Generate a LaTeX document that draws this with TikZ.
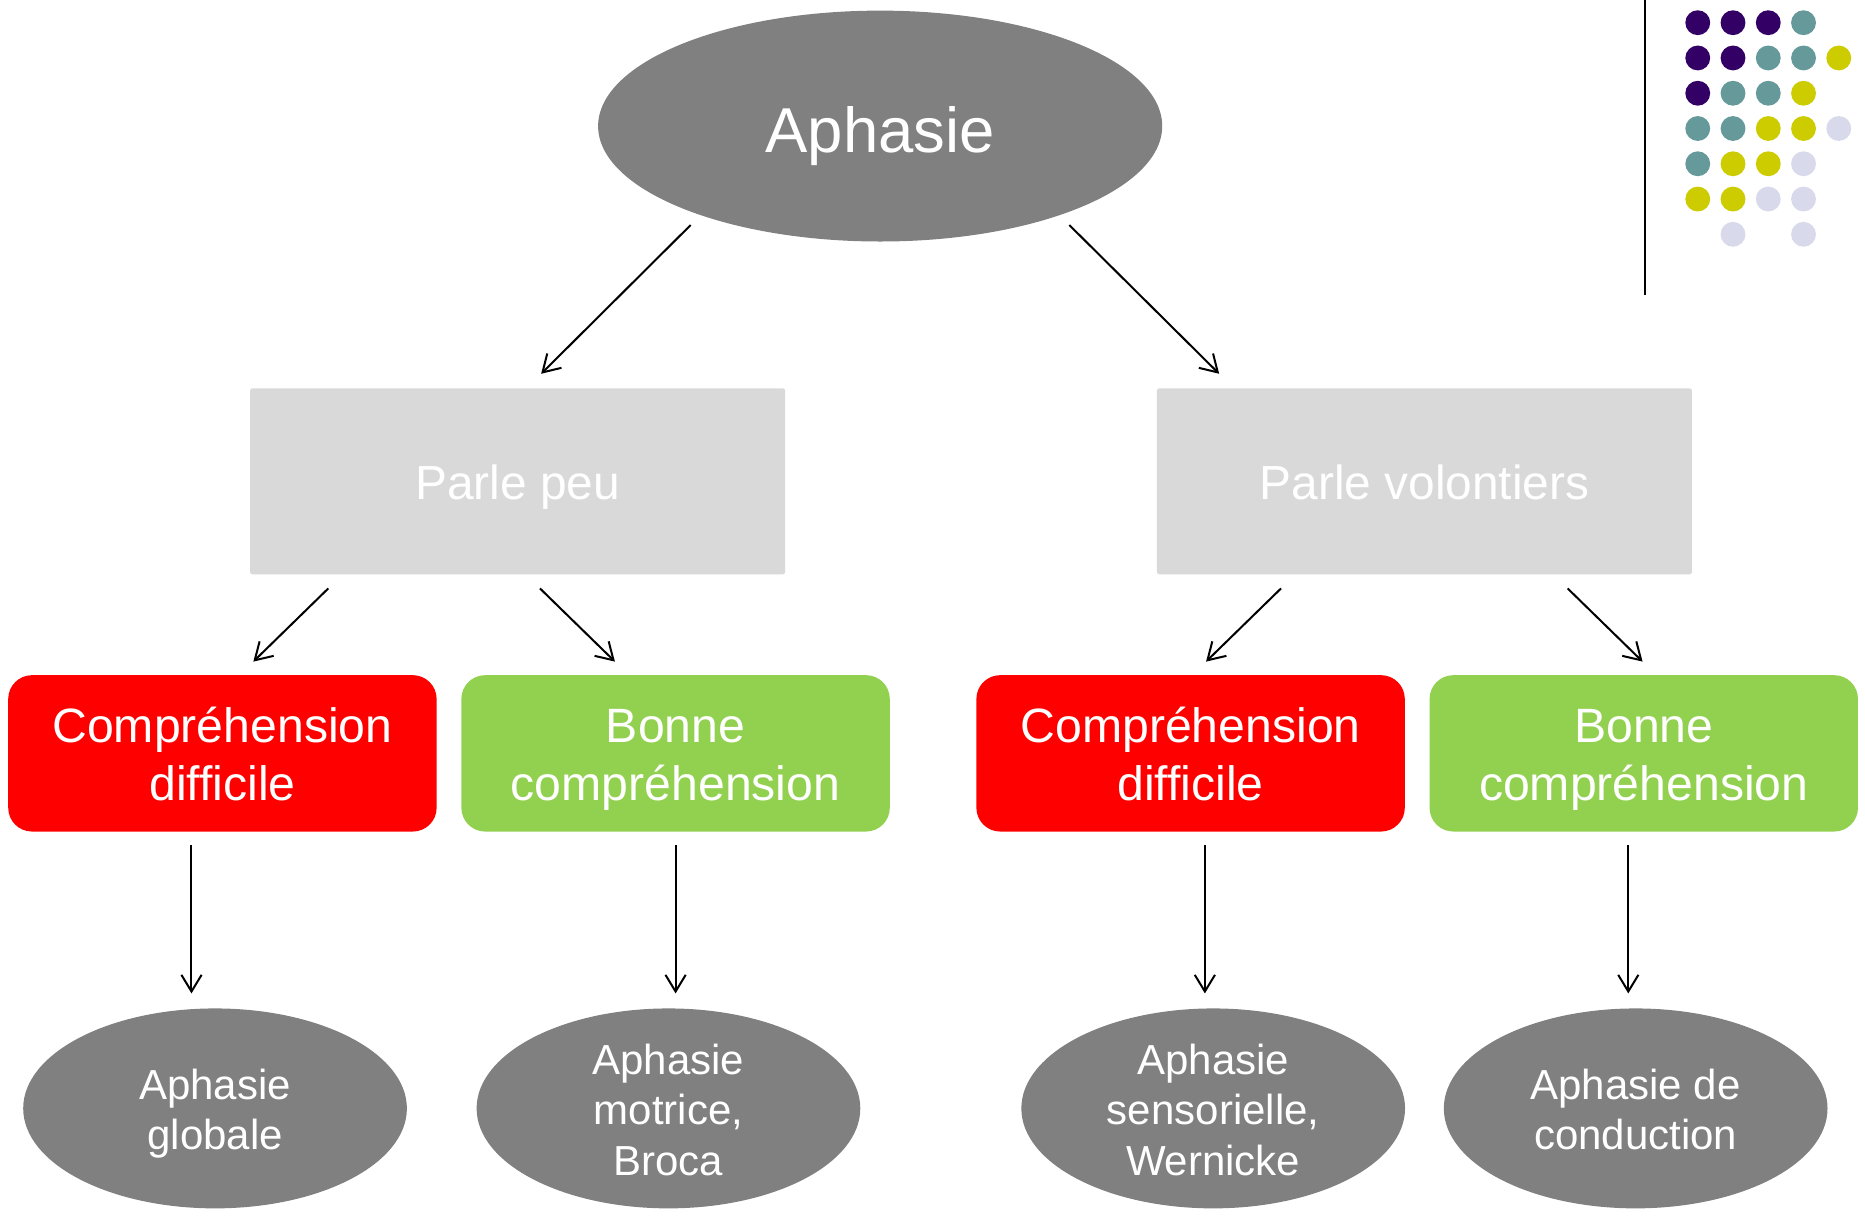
\documentclass[tikz,border=0pt]{standalone}
\usepackage{fontspec}
\setmainfont{Liberation Sans}
\usetikzlibrary{shapes.geometric,arrows.meta,calc}
\definecolor{ellgray}{HTML}{808080}
\definecolor{boxgray}{HTML}{D9D9D9}
\definecolor{myred}{HTML}{FF0000}
\definecolor{mygreen}{HTML}{92D050}
\definecolor{dpurple}{HTML}{330066}
\definecolor{dteal}{HTML}{669999}
\definecolor{dyellow}{HTML}{CCCC00}
\definecolor{dlav}{HTML}{D9D9EC}
\newcommand\bxt{\rule{0pt}{0.40cm}}
\newcommand\bxb{\rule[-0.09cm]{0pt}{0.09cm}}
\newcommand\elt{\rule{0pt}{0.354cm}}
\newcommand\elb{\rule[-0.08cm]{0pt}{0.08cm}}
\tikzset{
  topell/.style={ellipse, fill=ellgray, inner sep=0pt, minimum width=4.74cm, minimum height=1.94cm, text=white, text height=0.448cm, text depth=0pt, font=\fontsize{15.17}{18}\selectfont},
  graybox/.style={rectangle, fill=boxgray, rounded corners=0.02cm, inner sep=0pt, minimum width=4.495cm, minimum height=1.564cm, text=white, text height=0.302cm, text depth=0pt, font=\fontsize{11.44}{13.7}\selectfont},
  redbox/.style={rectangle, fill=myred, rounded corners=0.2cm, inner sep=0pt, minimum width=3.6cm, minimum height=1.314cm, text=white, align=center, font=\fontsize{11.52}{13.94}\selectfont},
  greenbox/.style={redbox, fill=mygreen},
  botell/.style={ellipse, fill=ellgray, inner xsep=0pt, inner ysep=-0.25cm, minimum width=3.224cm, minimum height=1.68cm, text=white, align=center, font=\fontsize{10.04}{12.035}\selectfont},
  arr/.style={line width=0.48pt, -{Straight Barb[length=0.14cm,width=0.17cm]}},
}
\begin{document}
\begin{tikzpicture}[x=0.01cm, y=-0.01cm]
\fill[white] (0,0) rectangle (1568,1023.2);
\useasboundingbox (0,0) rectangle (1568,1023.2);

\node[topell] (aph) at (740,106) {Aphasie};
\node[graybox] (pp) at (435.2,404.7) {Parle peu};
\node[graybox] (pv) at (1197.6,404.7) {Parle volontiers};
\node[redbox] (c1) at (187,633.4) {\bxt Compréhension\\difficile\bxb};
\node[greenbox] (b1) at (568,633.4) {\bxt Bonne\\compréhension\bxb};
\node[redbox] (c2) at (1001,633.4) {\bxt Compréhension\\difficile\bxb};
\node[greenbox] (b2) at (1382,633.4) {\bxt Bonne\\compréhension\bxb};
\node[botell] (e1) at (180.8,931.9) {\elt Aphasie\\globale\elb};
\node[botell] (e2) at (562,931.9) {\elt Aphasie\\motrice,\\Broca\elb};
\node[botell] (e3) at (1020,931.9) {\elt Aphasie\\sensorielle,\\Wernicke\elb};
\node[botell] (e4) at (1375.2,931.9) {\elt Aphasie de\\conduction\elb};

\draw[arr] ($(aph.center)+(-159.3,83.2)$) -- ($(pp.north)+(19.8,-11.5)$);
\draw[arr] ($(aph.center)+(159,83.2)$) -- ($(pv.north)+(-172.6,-11.5)$);
\draw[arr] ($(pp.south)+(-159.2,11.1)$) -- ($(c1.north)+(26,-10.7)$);
\draw[arr] ($(pp.south)+(18.8,11.1)$) -- ($(b1.north)+(-51,-10.7)$);
\draw[arr] ($(pv.south)+(-120.6,11.1)$) -- ($(c2.north)+(13,-10.7)$);
\draw[arr] ($(pv.south)+(120.4,11.1)$) -- ($(b2.north)+(-1,-10.7)$);
\draw[arr] ($(c1.south)+(-26,10.9)$) -- ($(e1.north)+(-19.8,-11.9)$);
\draw[arr] ($(b1.south)+(0,10.9)$) -- ($(e2.north)+(6,-11.9)$);
\draw[arr] ($(c2.south)+(12,10.9)$) -- ($(e3.north)+(-7,-11.9)$);
\draw[arr] ($(b2.south)+(-13,10.9)$) -- ($(e4.north)+(-6.2,-11.9)$);

\draw[line width=0.45pt] (1383,0) -- (1383,248);

% dot grid
\foreach \c/\r/\col in {
  1/0/dlav,2/0/dlav,3/0/dlav,
  1/1/dpurple,2/1/dpurple,3/1/dpurple,4/1/dteal,
  1/2/dpurple,2/2/dpurple,3/2/dteal,4/2/dteal,5/2/dyellow,
  1/3/dpurple,2/3/dteal,3/3/dteal,4/3/dyellow,
  1/4/dteal,2/4/dteal,3/4/dyellow,4/4/dyellow,5/4/dlav,
  1/5/dteal,2/5/dyellow,3/5/dyellow,4/5/dlav,
  1/6/dyellow,2/6/dyellow,3/6/dlav,4/6/dlav,
  2/7/dlav,4/7/dlav}
  \fill[\col] ({1427.4+29.64*(\c-1)},{19.1+29.65*(\r-1)}) circle[radius=10.45];
\end{tikzpicture}
\end{document}
